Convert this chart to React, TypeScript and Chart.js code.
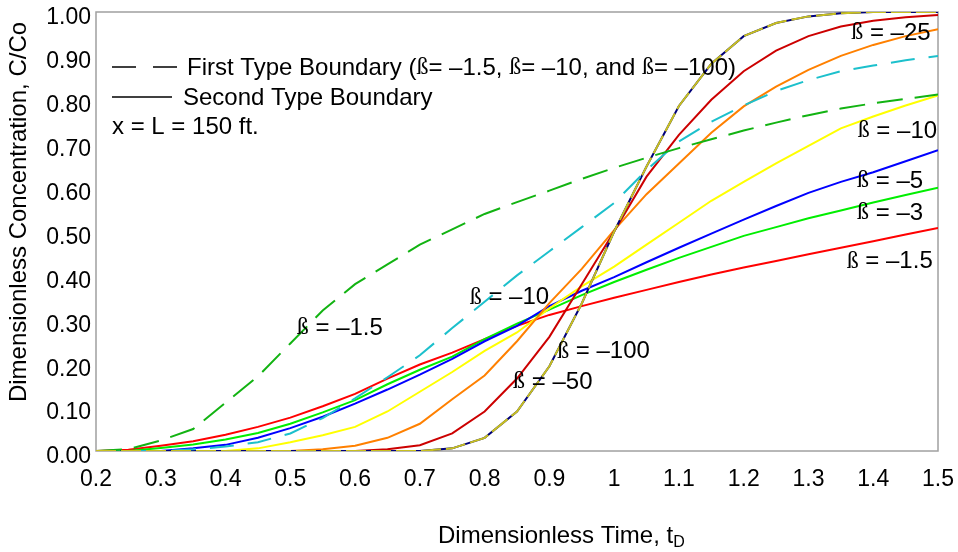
import React, { useEffect, useRef } from "react";
import { Chart, registerables } from "chart.js";

Chart.register(...registerables);

// Dimensionless time grid
const TD = [0.2, 0.25, 0.3, 0.35, 0.4, 0.45, 0.5, 0.55, 0.6, 0.65, 0.7, 0.75, 0.8, 0.85, 0.9, 0.95, 1.0, 1.05, 1.1, 1.15, 1.2, 1.25, 1.3, 1.35, 1.4, 1.45, 1.5];

// Second type boundary (solid)
const SECOND_B1_5 = [0, 0.003, 0.012, 0.022, 0.037, 0.055, 0.076, 0.102, 0.13, 0.165, 0.197, 0.224, 0.255, 0.285, 0.31, 0.33, 0.349, 0.367, 0.385, 0.402, 0.418, 0.433, 0.448, 0.463, 0.478, 0.493, 0.508];
const SECOND_B3 = [0, 0, 0.007, 0.015, 0.026, 0.041, 0.062, 0.088, 0.116, 0.152, 0.185, 0.215, 0.255, 0.29, 0.322, 0.355, 0.385, 0.413, 0.44, 0.465, 0.49, 0.51, 0.53, 0.548, 0.566, 0.583, 0.6];
const SECOND_B5 = [0, 0, 0, 0.006, 0.014, 0.03, 0.052, 0.078, 0.108, 0.14, 0.174, 0.21, 0.25, 0.285, 0.33, 0.365, 0.396, 0.43, 0.463, 0.495, 0.527, 0.558, 0.588, 0.613, 0.635, 0.66, 0.685];
const SECOND_B10 = [0, 0, 0, 0, 0, 0.006, 0.02, 0.036, 0.055, 0.09, 0.135, 0.18, 0.228, 0.27, 0.325, 0.375, 0.42, 0.47, 0.52, 0.57, 0.613, 0.655, 0.695, 0.735, 0.762, 0.787, 0.81];
const SECOND_B25 = [0, 0, 0, 0, 0, 0, 0, 0.004, 0.012, 0.03, 0.062, 0.118, 0.172, 0.25, 0.337, 0.415, 0.503, 0.585, 0.655, 0.725, 0.785, 0.83, 0.868, 0.9, 0.925, 0.945, 0.961];
const SECOND_B50 = [0, 0, 0, 0, 0, 0, 0, 0, 0, 0.004, 0.013, 0.04, 0.09, 0.165, 0.26, 0.38, 0.5, 0.625, 0.72, 0.8, 0.865, 0.912, 0.945, 0.967, 0.98, 0.988, 0.993];
const SECOND_B100 = [0, 0, 0, 0, 0, 0, 0, 0, 0, 0, 0, 0.006, 0.03, 0.09, 0.193, 0.336, 0.5, 0.648, 0.786, 0.882, 0.945, 0.975, 0.99, 0.997, 1.0, 1.0, 1.0];

// First type boundary (dashed)
const FIRST_B1_5 = [0, 0.004, 0.024, 0.05, 0.11, 0.17, 0.245, 0.32, 0.38, 0.425, 0.47, 0.505, 0.54, 0.567, 0.593, 0.62, 0.645, 0.668, 0.69, 0.71, 0.73, 0.748, 0.765, 0.78, 0.792, 0.802, 0.812];
const FIRST_B10 = [0, 0, 0, 0.004, 0.01, 0.02, 0.04, 0.075, 0.12, 0.168, 0.218, 0.28, 0.34, 0.4, 0.455, 0.51, 0.565, 0.64, 0.705, 0.75, 0.787, 0.82, 0.845, 0.865, 0.878, 0.89, 0.9];
const FIRST_B100 = [0, 0, 0, 0, 0, 0, 0, 0, 0, 0, 0, 0.006, 0.03, 0.09, 0.193, 0.336, 0.5, 0.648, 0.786, 0.882, 0.945, 0.975, 0.99, 0.997, 1.0, 1.0, 1.0];

// Axis ticks
const X_TICKS = [0.2, 0.3, 0.4, 0.5, 0.6, 0.7, 0.8, 0.9, 1.0, 1.1, 1.2, 1.3, 1.4, 1.5];
const X_TICK_LABELS = ["0.2", "0.3", "0.4", "0.5", "0.6", "0.7", "0.8", "0.9", "1", "1.1", "1.2", "1.3", "1.4", "1.5"];
const Y_TICKS = [0, 0.1, 0.2, 0.3, 0.4, 0.5, 0.6, 0.7, 0.8, 0.9, 1.0];
const Y_TICK_LABELS = ["0.00", "0.10", "0.20", "0.30", "0.40", "0.50", "0.60", "0.70", "0.80", "0.90", "1.00"];

// Curve labels (anchored in data coordinates: left edge, vertical middle)
const CURVE_LABELS = [
  { text: "ß = –25", x: 1.366, y: 0.952 },
  { text: "ß = –10", x: 1.376, y: 0.729 },
  { text: "ß = –5", x: 1.375, y: 0.615 },
  { text: "ß = –3", x: 1.375, y: 0.542 },
  { text: "ß = –1.5", x: 1.359, y: 0.431 },
  { text: "ß = –1.5", x: 0.51, y: 0.28 },
  { text: "ß = –10", x: 0.777, y: 0.349 },
  { text: "ß = –100", x: 0.912, y: 0.226 },
  { text: "ß = –50", x: 0.844, y: 0.157 },
];

const LEGEND_FIRST = "First Type Boundary (ß= –1.5, ß= –10, and ß= –100)";
const LEGEND_SECOND = "Second Type Boundary";
const LEGEND_NOTE = "x = L = 150 ft.";
const X_TITLE = "Dimensionless Time, t";
const X_TITLE_SUB = "D";
const Y_TITLE = "Dimensionless Concentration, C/Co";

const SANS = '"Liberation Sans", Arial, Helvetica, sans-serif';
const SERIF = '"Liberation Serif", "Times New Roman", serif';

function toPts(vals: number[]) {
  return TD.map((x, i) => ({ x, y: vals[i] }));
}

function drawRich(ctx: CanvasRenderingContext2D, text: string, x: number, y: number, size: number) {
  const parts = text.split(/(ß)/);
  let cx = x;
  for (const p of parts) {
    if (!p) continue;
    ctx.font = `${size}px ${p === "ß" ? SERIF : SANS}`;
    ctx.fillText(p, cx, y);
    cx += ctx.measureText(p).width;
  }
}

const decoPlugin = {
  id: "deco",
  beforeDatasetsDraw(chart: any) {
    const { ctx, chartArea: a } = chart;
    ctx.save();
    ctx.strokeStyle = "#a0a0a0";
    ctx.lineWidth = 1.5;
    ctx.strokeRect(a.left, a.top, a.right - a.left, a.bottom - a.top);
    ctx.restore();
  },
  afterDraw(chart: any) {
    const { ctx } = chart;
    const xs = chart.scales.x;
    const ys = chart.scales.y;
    ctx.save();
    ctx.fillStyle = "#000";
    ctx.textBaseline = "middle";
    ctx.textAlign = "left";

    // curve labels
    for (const l of CURVE_LABELS) {
      drawRich(ctx, l.text, xs.getPixelForValue(l.x), ys.getPixelForValue(l.y), 24);
    }

    // legend
    ctx.strokeStyle = "#000";
    ctx.lineWidth = 1.5;
    ctx.setLineDash([24, 17]);
    ctx.beginPath();
    ctx.moveTo(112, 67);
    ctx.lineTo(177, 67);
    ctx.stroke();
    ctx.setLineDash([]);
    ctx.beginPath();
    ctx.moveTo(112, 97);
    ctx.lineTo(172, 97);
    ctx.stroke();
    drawRich(ctx, LEGEND_FIRST, 187, 68, 24);
    drawRich(ctx, LEGEND_SECOND, 183, 98, 24);
    drawRich(ctx, LEGEND_NOTE, 112, 127, 24);

    // x title
    ctx.font = `24px ${SANS}`;
    ctx.fillText(X_TITLE, 438, 536);
    const w = ctx.measureText(X_TITLE).width;
    ctx.font = `16px ${SANS}`;
    ctx.fillText(X_TITLE_SUB, 438 + w, 543);

    // y title
    ctx.translate(19, 212);
    ctx.rotate(-Math.PI / 2);
    ctx.textAlign = "center";
    ctx.font = `24px ${SANS}`;
    ctx.fillText(Y_TITLE, 0, 0);
    ctx.restore();
  },
};

export default function App() {
  const ref = useRef<HTMLCanvasElement | null>(null);

  useEffect(() => {
    if (!ref.current) return;
    const solid = (label: string, vals: number[], color: string) => ({
      label,
      data: toPts(vals),
      borderColor: color,
      backgroundColor: color,
      borderWidth: 2,
      pointRadius: 0,
      tension: 0,
      fill: false,
      order: 2,
    });
    const dashed = (label: string, vals: number[], color: string, dash: number[], order: number) => ({
      label,
      data: toPts(vals),
      borderColor: color,
      backgroundColor: color,
      borderWidth: 2,
      borderDash: dash,
      pointRadius: 0,
      tension: 0,
      fill: false,
      order,
    });

    const chart = new Chart(ref.current, {
      type: "line",
      data: {
        datasets: [
          dashed("First type ß=-100", FIRST_B100, "#c8c020", [20, 5], 0),
          dashed("First type ß=-1.5", FIRST_B1_5, "#12b312", [26, 12], 1),
          dashed("First type ß=-10", FIRST_B10, "#1cc0cc", [24, 14], 1),
          solid("Second type ß=-100", SECOND_B100, "#00007a"),
          solid("Second type ß=-50", SECOND_B50, "#cc0000"),
          solid("Second type ß=-25", SECOND_B25, "#ff8000"),
          solid("Second type ß=-10", SECOND_B10, "#ffff00"),
          solid("Second type ß=-5", SECOND_B5, "#0000ff"),
          solid("Second type ß=-3", SECOND_B3, "#00ee00"),
          solid("Second type ß=-1.5", SECOND_B1_5, "#ff0000"),
        ] as any,
      },
      options: {
        animation: false,
        responsive: false,
        maintainAspectRatio: false,
        layout: { padding: { left: 0, right: 20, top: 12, bottom: 0 } },
        plugins: {
          legend: { display: false },
          tooltip: { enabled: false },
          title: { display: false },
        },
        scales: {
          x: {
            type: "linear",
            min: 0.2,
            max: 1.5,
            grid: { display: false, drawTicks: false },
            border: { display: false },
            afterBuildTicks: (s: any) => {
              s.ticks = X_TICKS.map((v) => ({ value: v }));
            },
            afterFit: (s: any) => {
              s.height = 101;
              s.paddingLeft = 0;
              s.paddingRight = 0;
            },
            ticks: {
              autoSkip: false,
              maxRotation: 0,
              minRotation: 0,
              padding: 15,
              color: "#000",
              font: { family: SANS, size: 23 },
              callback: (v: any) => {
                const i = X_TICKS.findIndex((t) => Math.abs(t - Number(v)) < 1e-6);
                return i >= 0 ? X_TICK_LABELS[i] : "";
              },
            },
          },
          y: {
            type: "linear",
            min: 0,
            max: 1,
            grid: { display: false, drawTicks: false },
            border: { display: false },
            afterBuildTicks: (s: any) => {
              s.ticks = Y_TICKS.map((v) => ({ value: v }));
            },
            afterFit: (s: any) => {
              s.width = 96;
              s.paddingTop = 0;
              s.paddingBottom = 0;
            },
            ticks: {
              autoSkip: false,
              padding: 5,
              labelOffset: 6,
              color: "#000",
              font: { family: SANS, size: 23 },
              callback: (v: any) => {
                const i = Y_TICKS.findIndex((t) => Math.abs(t - Number(v)) < 1e-6);
                return i >= 0 ? Y_TICK_LABELS[i] : "";
              },
            },
          },
        },
      } as any,
      plugins: [decoPlugin],
    });
    return () => chart.destroy();
  }, []);

  return (
    <div style={{ position: "fixed", left: 0, top: 0, width: 958, height: 552, background: "#fff" }}>
      <canvas ref={ref} width={958} height={552} style={{ width: 958, height: 552, display: "block" }} />
    </div>
  );
}
